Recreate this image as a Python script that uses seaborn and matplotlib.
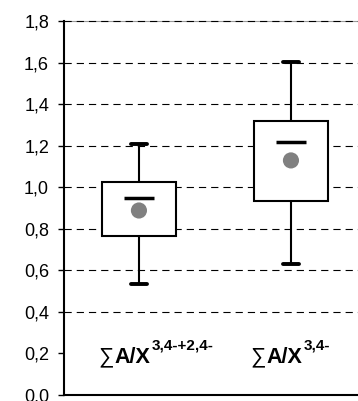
import numpy as np
import pandas as pd
import matplotlib
matplotlib.use("Agg")
import matplotlib.pyplot as plt
import seaborn as sns

# ---- data ----
groups = ["sum_34_24", "sum_34"]
whisker_low = [0.533, 0.631]
q1 = [0.763, 0.935]
median = [0.948, 1.216]
q3 = [1.027, 1.317]
whisker_high = [1.207, 1.603]
means = [0.888, 1.129]
label_sum = ["\u2211", "\u2211"]
label_base = ["A/X", "A/X"]
label_sup = ["3,4-+2,4-", "3,4-"]
ytick_values = [0.0, 0.2, 0.4, 0.6, 0.8, 1.0, 1.2, 1.4, 1.6, 1.8]
ytick_labels = ["0,0", "0,2", "0,4", "0,6", "0,8", "1,0", "1,2", "1,4", "1,6", "1,8"]
grid_hidden = [0.0, 0.2]   # no dashed line behind the labels row

sns.set_theme(style="white")
plt.rcParams["font.family"] = ["Liberation Sans", "DejaVu Sans"]

# five-number summary per group -> long table for seaborn
rows = []
for g, lo, a, m, b, hi in zip(groups, whisker_low, q1, median, q3, whisker_high):
    for v in (lo, a, m, b, hi):
        rows.append({"group": g, "value": v})
df = pd.DataFrame(rows)
pos = list(range(len(groups)))

fig = plt.figure(figsize=(3.58, 4.01), dpi=100)
ax = fig.add_axes([64 / 358, 6 / 401, 294 / 358, 374 / 401])

box_w = 0.487
sns.boxplot(data=df, x="group", y="value", order=groups, whis=(0, 100),
            width=box_w, color="white", linecolor="black", linewidth=1.5,
            saturation=1, showfliers=False,
            medianprops={"visible": False},
            capprops={"linewidth": 2.8},
            ax=ax)

# shorter caps
for ln in ax.lines:
    y = np.asarray(ln.get_ydata(), dtype=float)
    x = np.asarray(ln.get_xdata(), dtype=float)
    if len(y) == 2 and np.isclose(y[0], y[1]) and (
            np.any(np.isclose(y[0], whisker_low)) or np.any(np.isclose(y[0], whisker_high))):
        c = x.mean()
        ln.set_xdata([c - 0.05, c + 0.05])

# median bars and means
sns.scatterplot(x=pos, y=median, marker="_", s=470, linewidth=2.5,
                color="black", zorder=5, ax=ax, legend=False)
sns.scatterplot(x=pos, y=means, marker="o", s=135, color="#808080",
                edgecolor="none", linewidth=0, zorder=5, ax=ax, legend=False)

# labels inside the plot
for i in pos:
    t0 = ax.text(i - box_w / 2 - 0.025, 0.155, label_sum[i], fontsize=15.5,
                 va="baseline", ha="left", color="black")
    t1 = ax.annotate(label_base[i], xy=(1, 0), xycoords=t0, xytext=(0.5, 0),
                     textcoords="offset points", va="bottom", ha="left",
                     fontsize=15.5, fontweight="bold", color="black")
    ax.annotate(label_sup[i], xy=(1, 0), xycoords=t1, xytext=(1, 11),
                textcoords="offset points", va="bottom", ha="left",
                fontsize=11, fontweight="bold", color="black")

ax.set_xlim(-0.493, 1.441)
ax.set_ylim(0, 1.8)
ax.set_yticks(ytick_values)
ax.set_yticklabels(ytick_labels)
ax.set_xticks([])
ax.set_xlabel("")
ax.set_ylabel("")

ax.set_axisbelow(True)
ax.yaxis.grid(True, color="black", linewidth=0.8, linestyle=(0, (6.5, 4.5)))
ax.xaxis.grid(False)
for v, gl in zip(ytick_values, ax.yaxis.get_gridlines()):
    if v in grid_hidden:
        gl.set_visible(False)
    gl.set_clip_on(False)

for side in ("left", "bottom"):
    ax.spines[side].set_visible(True)
    ax.spines[side].set_color("black")
    ax.spines[side].set_linewidth(1.5)
ax.spines["right"].set_visible(False)
ax.spines["top"].set_color("#9a9a9a")
ax.spines["top"].set_linewidth(0.8)
ax.spines["top"].set_zorder(0.3)

ax.tick_params(axis="y", left=True, length=4.3, width=1, color="black",
               pad=6.5, labelsize=13, labelcolor="black")

fig.savefig("out.png", dpi=100, facecolor="white")
